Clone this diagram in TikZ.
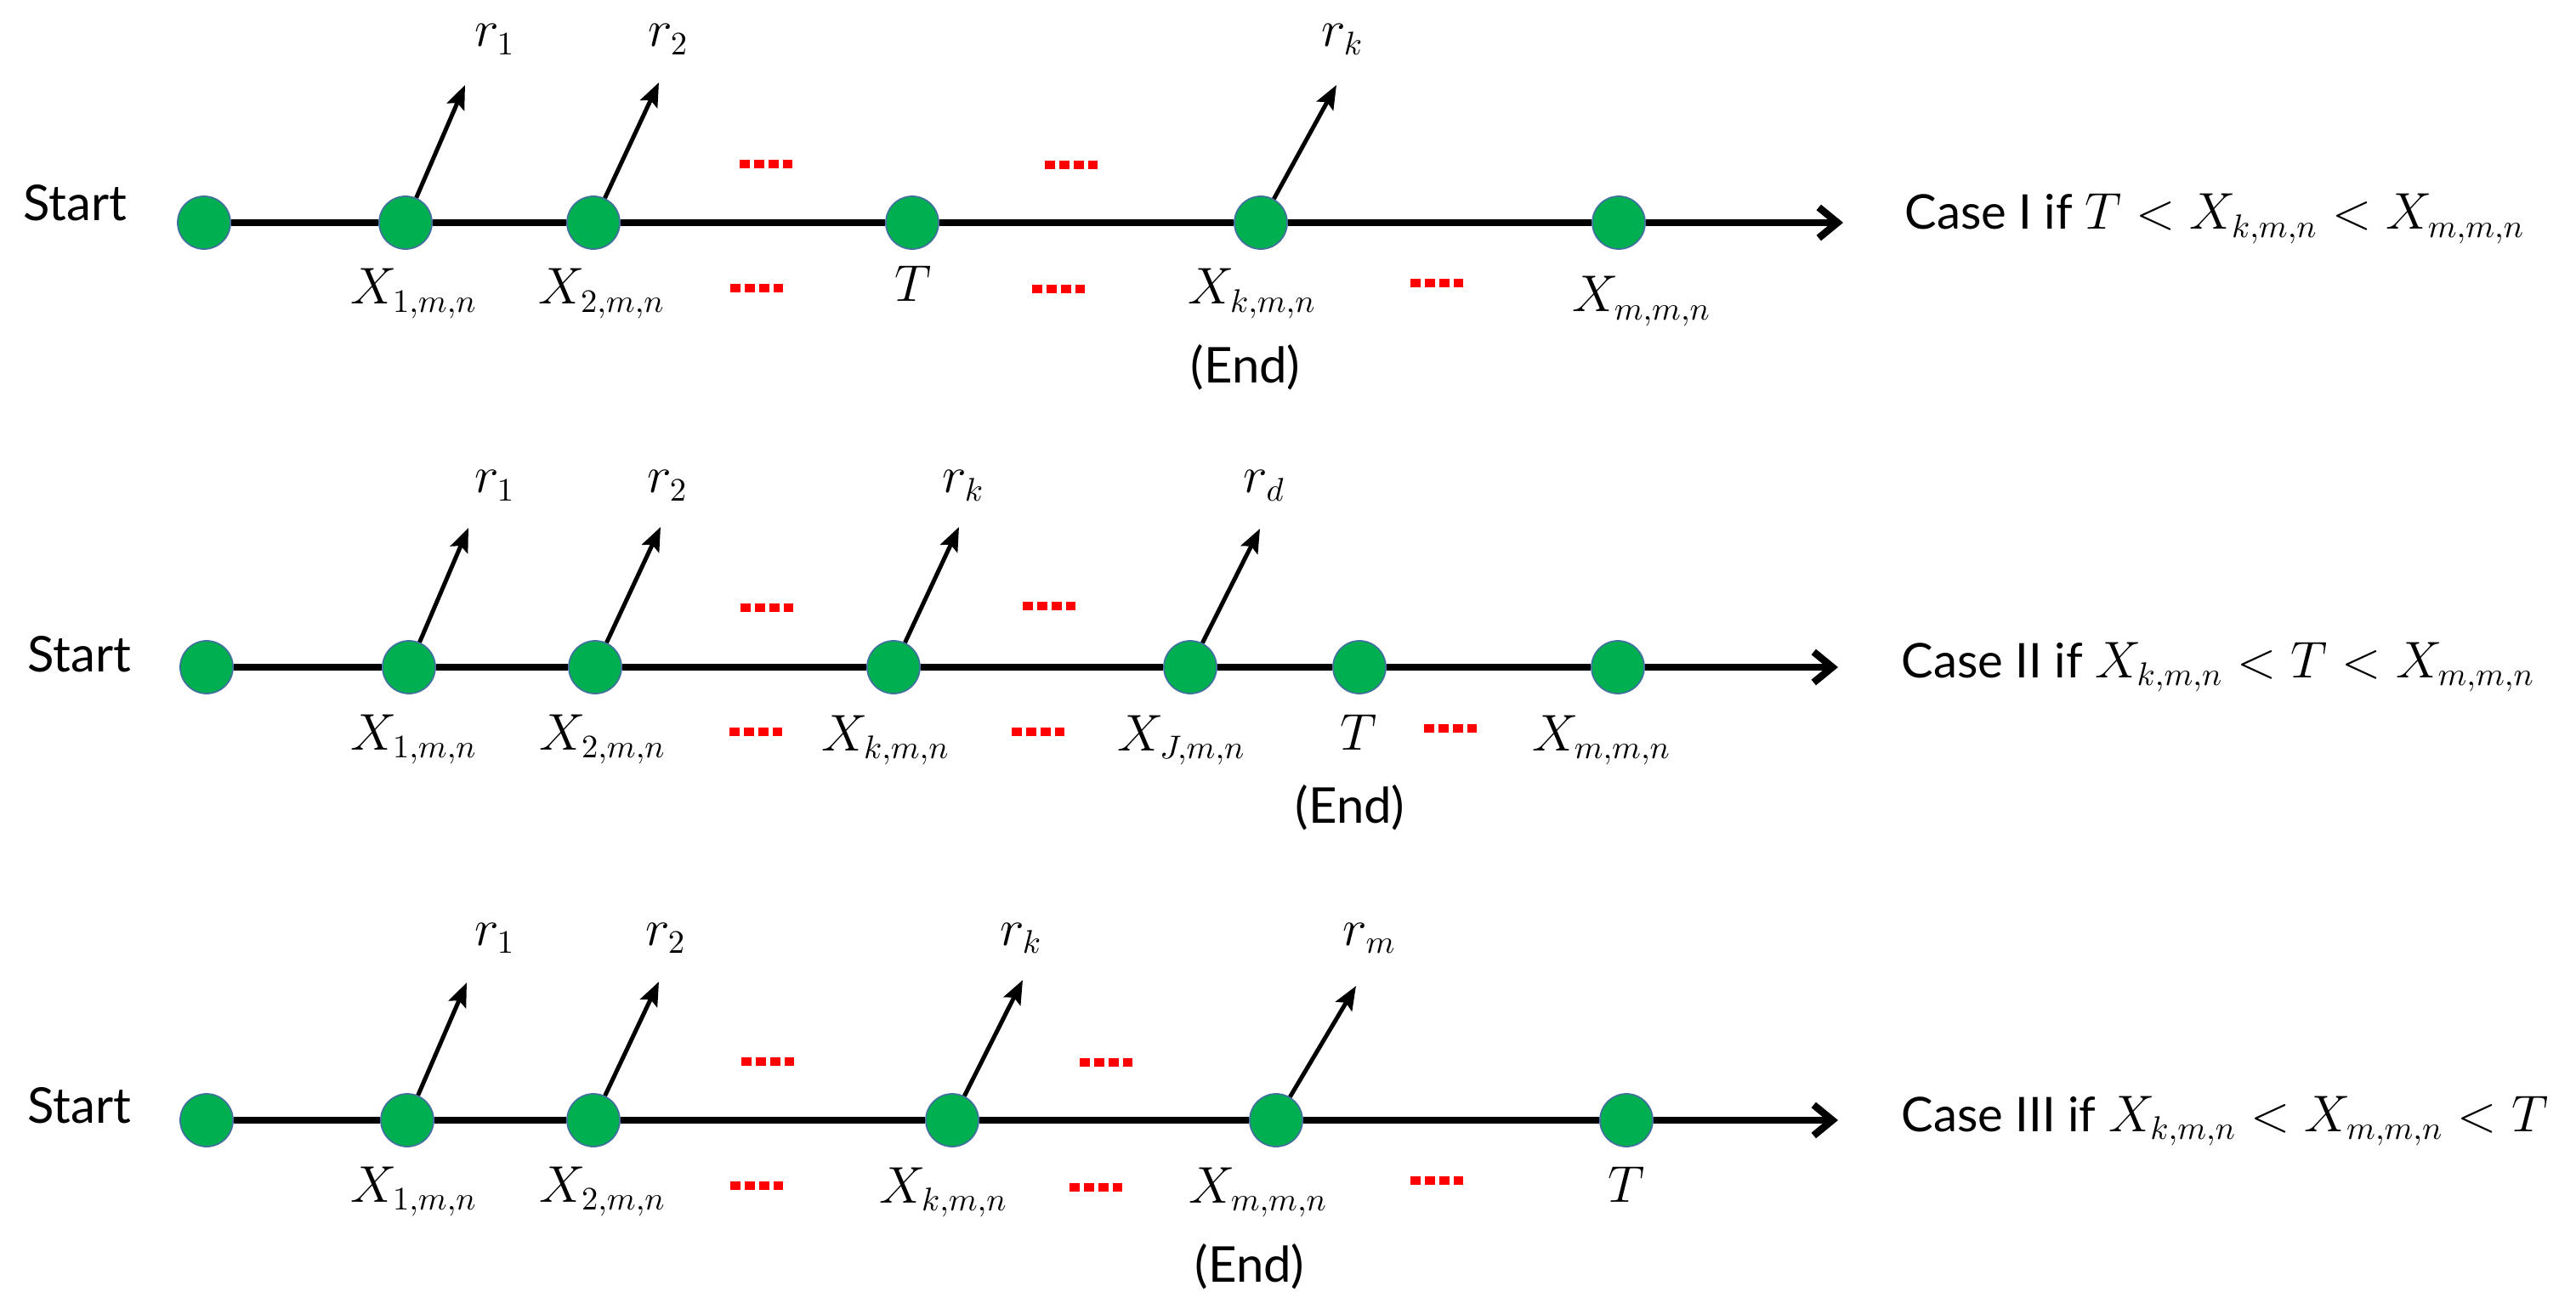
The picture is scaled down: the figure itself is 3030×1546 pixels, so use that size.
\documentclass[tikz,border=0pt]{standalone}
\usepackage[no-math]{fontspec}
\newfontfamily\gillfont{Lato}
\usetikzlibrary{arrows.meta}
\definecolor{dotgreen}{RGB}{0,176,80}
\definecolor{dotedge}{RGB}{65,113,156}
\definecolor{dashred}{RGB}{255,0,0}
\newcommand\reddash[2]{\draw[reddots] (#1-31,#2) -- (#1+31,#2);}
\begin{document}
\begin{tikzpicture}[x=0.01cm,y=-0.01cm,
 pt/.style={circle, fill=dotgreen, draw=dotedge, line width=0.5pt, minimum size=0.62cm, inner sep=0pt},
 mainline/.style={line width=0.085cm},
 mainarrow/.style={line width=0.085cm, -{Straight Barb[length=0.22cm,width=0.36cm]}},
 rarrow/.style={line width=0.05cm, -{Stealth[length=0.28cm,width=0.22cm,inset=0.05cm]}},
 reddots/.style={dashred, line width=0.1cm, dash pattern=on 0.12cm off 0.05cm},
 txt/.style={font=\gillfont\fontsize{16.5}{20}\selectfont, inner sep=0pt, anchor=base},
 casetxt/.style={font=\gillfont\fontsize{16}{19}\selectfont, inner sep=0pt, anchor=base west},
 mlab/.style={font=\fontsize{16}{19}\selectfont, inner sep=0pt, anchor=base},
]
\useasboundingbox (0,0) rectangle (3030,1546);

% ---------------- Row 1 ----------------
\node[txt] (s1) at (88,260) {Start};
\node[pt] (a0) at (240,262) {};
\node[pt] (a1) at (477,262) {};
\node[pt] (a2) at (698,262) {};
\node[pt] (aT) at (1073,262) {};
\node[pt] (ak) at (1483,262) {};
\node[pt] (am) at (1904,262) {};
\coordinate (aend) at (2168,262);
\draw[mainline] (a0) -- (a1) (a1) -- (a2) (a2) -- (aT) (aT) -- (ak) (ak) -- (am);
\draw[mainarrow] (am) -- (aend);
\coordinate (ta1) at (547,100);
\coordinate (ta2) at (775,97);
\coordinate (tak) at (1572,100);
\draw[rarrow] (a1) -- (ta1);
\draw[rarrow] (a2) -- (ta2);
\draw[rarrow] (ak) -- (tak);
\node[mlab] (ra1) at (582,55) {$r_1$};
\node[mlab] (ra2) at (786,55) {$r_2$};
\node[mlab] (rak) at (1579,55) {$r_k$};
\node[mlab] (la1) at (487,358) {$X_{1,m,n}$};
\node[mlab] (la2) at (708,358) {$X_{2,m,n}$};
\node[mlab] (laT) at (1074,355) {$T$};
\node[mlab] (lak) at (1473,358) {$X_{k,m,n}$};
\node[txt, anchor=center] (ea) at (1465,432) {(End)};
\node[mlab] (lam) at (1931,367) {$X_{m,m,n}$};
\node[casetxt] (case1) at (2240,270) {Case I if $T < X_{k,m,n} < X_{m,m,n}$};
\reddash{901}{193}
\reddash{1260}{194}
\reddash{890}{339}
\reddash{1245}{340}
\reddash{1690}{333}

% ---------------- Row 2 ----------------
\node[txt] (s2) at (93,790) {Start};
\node[pt] (b0) at (243,785) {};
\node[pt] (b1) at (481,785) {};
\node[pt] (b2) at (700,785) {};
\node[pt] (bk) at (1051,785) {};
\node[pt] (bJ) at (1400,785) {};
\node[pt] (bT) at (1599,785) {};
\node[pt] (bm) at (1903,785) {};
\coordinate (bend) at (2162,785);
\draw[mainline] (b0) -- (b1) (b1) -- (b2) (b2) -- (bk) (bk) -- (bJ) (bJ) -- (bT) (bT) -- (bm);
\draw[mainarrow] (bm) -- (bend);
\coordinate (tb1) at (551,621);
\coordinate (tb2) at (777,620);
\coordinate (tbk) at (1128,620);
\coordinate (tbJ) at (1482,622);
\draw[rarrow] (b1) -- (tb1);
\draw[rarrow] (b2) -- (tb2);
\draw[rarrow] (bk) -- (tbk);
\draw[rarrow] (bJ) -- (tbJ);
\node[mlab] (rb1) at (582,580) {$r_1$};
\node[mlab] (rb2) at (785,580) {$r_2$};
\node[mlab] (rbk) at (1133,580) {$r_k$};
\node[mlab] (rbd) at (1487,580) {$r_d$};
\node[mlab] (lb1) at (487,882) {$X_{1,m,n}$};
\node[mlab] (lb2) at (709,882) {$X_{2,m,n}$};
\node[mlab] (lbk) at (1042,883) {$X_{k,m,n}$};
\node[mlab] (lbJ) at (1390,883) {$X_{J,m,n}$};
\node[mlab] (lbT) at (1598,882) {$T$};
\node[txt, anchor=center] (eb) at (1588,950) {(End)};
\node[mlab] (lbm) at (1884,883) {$X_{m,m,n}$};
\node[casetxt] (case2) at (2236,797) {Case II if $X_{k,m,n} < T < X_{m,m,n}$};
\reddash{902}{715}
\reddash{1234}{713}
\reddash{889}{861}
\reddash{1221}{861}
\reddash{1706}{857}

% ---------------- Row 3 ----------------
\node[txt] (s3) at (93,1321) {Start};
\node[pt] (c0) at (243,1318) {};
\node[pt] (c1) at (479,1318) {};
\node[pt] (c2) at (698,1318) {};
\node[pt] (ck) at (1120,1318) {};
\node[pt] (cm) at (1501,1318) {};
\node[pt] (cT) at (1913,1318) {};
\coordinate (cend) at (2162,1318);
\draw[mainline] (c0) -- (c1) (c1) -- (c2) (c2) -- (ck) (ck) -- (cm) (cm) -- (cT);
\draw[mainarrow] (cT) -- (cend);
\coordinate (tc1) at (549,1156);
\coordinate (tc2) at (775,1155);
\coordinate (tck) at (1203,1153);
\coordinate (tcm) at (1595,1160);
\draw[rarrow] (c1) -- (tc1);
\draw[rarrow] (c2) -- (tc2);
\draw[rarrow] (ck) -- (tck);
\draw[rarrow] (cm) -- (tcm);
\node[mlab] (rc1) at (582,1112) {$r_1$};
\node[mlab] (rc2) at (783,1112) {$r_2$};
\node[mlab] (rck) at (1201,1112) {$r_k$};
\node[mlab] (rcm) at (1611,1112) {$r_m$};
\node[mlab] (lc1) at (487,1414) {$X_{1,m,n}$};
\node[mlab] (lc2) at (709,1414) {$X_{2,m,n}$};
\node[mlab] (lck) at (1110,1415) {$X_{k,m,n}$};
\node[mlab] (lcm) at (1480,1415) {$X_{m,m,n}$};
\node[txt, anchor=center] (ec) at (1470,1490) {(End)};
\node[mlab] (lcT) at (1913,1414) {$T$};
\node[casetxt] (case3) at (2236,1331) {Case III if $X_{k,m,n} < X_{m,m,n} < T$};
\reddash{903}{1249}
\reddash{1301}{1250}
\reddash{890}{1395}
\reddash{1289}{1397}
\reddash{1690}{1389}
\end{tikzpicture}
\end{document}
